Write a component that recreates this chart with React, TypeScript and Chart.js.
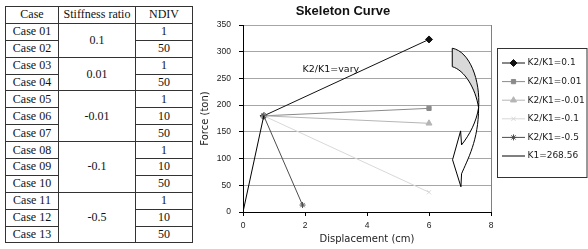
import React, { useEffect, useRef } from 'react';
import { Chart, registerables } from 'chart.js';
import { drawPoint } from 'chart.js/helpers';

Chart.register(...registerables);

// ---- Table data ----
const caseNames = ['Case 01', 'Case 02', 'Case 03', 'Case 04', 'Case 05', 'Case 06', 'Case 07', 'Case 08', 'Case 09', 'Case 10', 'Case 11', 'Case 12', 'Case 13'];
const caseRatios = ['0.1', '0.1', '0.01', '0.01', '-0.01', '-0.01', '-0.01', '-0.1', '-0.1', '-0.1', '-0.5', '-0.5', '-0.5'];
const caseNdiv = ['1', '50', '1', '50', '1', '10', '50', '1', '10', '50', '1', '10', '50'];
const tableHeaders = ['Case', 'Stiffness ratio', 'NDIV'];

// ---- Chart data ----
const chartTitle = 'Skeleton Curve';
const xTitle = 'Displacement (cm)';
const yTitle = 'Force (ton)';
const seriesLabels = ['K2/K1=0.1', 'K2/K1=0.01', 'K2/K1=-0.01', 'K2/K1=-0.1', 'K2/K1=-0.5', 'K1=268.56'];
const seriesX = [
  [0.67, 6],
  [0.67, 6],
  [0.67, 6],
  [0.67, 6],
  [0.67, 1.92],
  [0, 0.67],
];
const seriesY = [
  [180, 323],
  [180, 194],
  [180, 166],
  [180, 37],
  [180, 13],
  [0, 180],
];
const xTicks = [0, 2, 4, 6, 8];
const yTicks = [0, 50, 100, 150, 200, 250, 300, 350];
const noteText = 'K2/K1=vary';
const notePoint = { x: 1.92, y: 266 };

// ---- Styles ----
const seriesColors = ['#111111', '#8a8a8a', '#b5b5b5', '#d8d8d8', '#4d4d4d', '#000000'];
const seriesMarkers: any[] = ['rectRot', 'rect', 'triangle', 'crossRot', 'star', false];
const seriesRadius = [3.5, 3, 3.5, 3, 3, 0];

// Curved arrow annotation (data units)
const arrowFilled: any[] = [
  ['M', 6.75, 306.5],
  ['C', 7.31, 300.6, 7.66, 247, 7.6, 195.2],
  ['C', 7.5, 232, 7.14, 265.8, 6.75, 272],
  ['Z'],
];
const arrowOutline: any[] = [
  ['M', 7.6, 195.2],
  ['C', 7.6, 134.4, 7.24, 97.7, 7.05, 71.5],
  ['L', 7.03, 47.2],
  ['L', 6.76, 97.7],
  ['L', 7.02, 151.8],
  ['L', 7.05, 125.6],
  ['C', 7.31, 144.5, 7.53, 168.8, 7.6, 195.2],
  ['Z'],
];

const sansFont = "'Liberation Sans', Arial, sans-serif";
const narrowFont = "'Liberation Sans Narrow', 'Liberation Sans', Arial, sans-serif";
const dejaFont = "'DejaVu Sans', sans-serif";

function tracePath(ctx: CanvasRenderingContext2D, cmds: any[], xs: any, ys: any) {
  ctx.beginPath();
  for (const c of cmds) {
    if (c[0] === 'M') ctx.moveTo(xs.getPixelForValue(c[1]), ys.getPixelForValue(c[2]));
    else if (c[0] === 'L') ctx.lineTo(xs.getPixelForValue(c[1]), ys.getPixelForValue(c[2]));
    else if (c[0] === 'C')
      ctx.bezierCurveTo(
        xs.getPixelForValue(c[1]), ys.getPixelForValue(c[2]),
        xs.getPixelForValue(c[3]), ys.getPixelForValue(c[4]),
        xs.getPixelForValue(c[5]), ys.getPixelForValue(c[6])
      );
    else if (c[0] === 'Z') ctx.closePath();
  }
}

const extrasPlugin = {
  id: 'extras',
  beforeDatasetsDraw(chart: any) {
    const { ctx, chartArea } = chart;
    ctx.save();
    ctx.strokeStyle = '#808080';
    ctx.lineWidth = 1;
    ctx.beginPath();
    ctx.moveTo(Math.round(chartArea.right) + 0.5, chartArea.top);
    ctx.lineTo(Math.round(chartArea.right) + 0.5, chartArea.bottom);
    ctx.stroke();
    ctx.restore();
  },
  afterDatasetsDraw(chart: any) {
    const { ctx } = chart;
    const xs = chart.scales.x;
    const ys = chart.scales.y;
    ctx.save();
    ctx.lineWidth = 1;
    ctx.strokeStyle = '#000';
    tracePath(ctx, arrowFilled, xs, ys);
    ctx.fillStyle = '#d9d9d9';
    ctx.fill();
    ctx.stroke();
    tracePath(ctx, arrowOutline, xs, ys);
    ctx.fillStyle = '#ffffff';
    ctx.fill();
    ctx.stroke();
    // note text
    ctx.fillStyle = '#111';
    ctx.font = `9.5px ${dejaFont}`;
    ctx.textAlign = 'left';
    ctx.textBaseline = 'middle';
    ctx.fillText(noteText, xs.getPixelForValue(notePoint.x), ys.getPixelForValue(notePoint.y));
    ctx.restore();
  },
  afterDraw(chart: any) {
    const { ctx, chartArea } = chart;
    const left = Math.round(chartArea.right) + 6.5;
    const top = 48.5;
    const w = chart.width - left - 1;
    const h = 129;
    ctx.save();
    ctx.fillStyle = '#fff';
    ctx.fillRect(left, top, w, h);
    ctx.strokeStyle = '#333';
    ctx.lineWidth = 1;
    ctx.strokeRect(left, top, w, h);
    seriesLabels.forEach((lab, i) => {
      const y = top + 14.5 + i * 18.6;
      ctx.strokeStyle = seriesColors[i];
      ctx.lineWidth = 1;
      ctx.beginPath();
      ctx.moveTo(left + 4.5, y);
      ctx.lineTo(left + 27.5, y);
      ctx.stroke();
      if (seriesMarkers[i]) {
        ctx.fillStyle = seriesColors[i];
        drawPoint(ctx, { pointStyle: seriesMarkers[i], radius: seriesRadius[i], rotation: 0, borderWidth: 1 } as any, left + 16, y);
      }
      ctx.fillStyle = '#1a1a1a';
      ctx.font = `9px ${dejaFont}`;
      ctx.textAlign = 'left';
      ctx.textBaseline = 'middle';
      ctx.fillText(lab, left + 30, y);
    });
    ctx.restore();
  },
};

function SkeletonChart() {
  const ref = useRef<HTMLCanvasElement>(null);
  useEffect(() => {
    if (!ref.current) return;
    const datasets = seriesLabels.map((label, i) => ({
      label,
      data: seriesX[i].map((x, j) => ({ x, y: seriesY[i][j] })),
      showLine: true,
      borderColor: seriesColors[i],
      backgroundColor: seriesColors[i],
      pointBackgroundColor: seriesColors[i],
      pointBorderColor: seriesColors[i],
      pointStyle: seriesMarkers[i],
      pointRadius: seriesRadius[i],
      pointBorderWidth: 1,
      borderWidth: 1,
      tension: 0,
      order: -i,
    }));
    const chart = new Chart(ref.current, {
      type: 'scatter',
      data: { datasets },
      plugins: [extrasPlugin],
      options: {
        animation: false,
        responsive: false,
        layout: { padding: { left: 0, right: 97, top: 0, bottom: 0 } },
        plugins: {
          legend: { display: false },
          tooltip: { enabled: false },
          title: {
            display: true,
            text: chartTitle,
            color: '#111',
            font: { family: sansFont, size: 13, weight: 'bold' },
            padding: { top: 4, bottom: 5.4 },
          },
        },
        scales: {
          x: {
            type: 'linear',
            min: 0,
            max: 8,
            afterBuildTicks: (s: any) => { s.ticks = xTicks.map((v) => ({ value: v })); },
            afterFit: (s: any) => { s.height = 37; },
            grid: { drawOnChartArea: false, drawTicks: true, tickLength: 4, tickColor: '#000' },
            border: { color: '#000', width: 1 },
            ticks: { color: '#222', font: { family: narrowFont, size: 8.5 }, padding: 5, maxRotation: 0 },
            title: {
              display: true,
              text: xTitle,
              color: '#222',
              font: { family: dejaFont, size: 10 },
              padding: { top: 0, bottom: 4 },
            },
          },
          y: {
            type: 'linear',
            min: 0,
            max: 350,
            afterBuildTicks: (s: any) => { s.ticks = yTicks.map((v) => ({ value: v })); },
            afterFit: (s: any) => { s.width = 48; },
            grid: { color: '#a6a6a6', drawTicks: true, tickLength: 4, tickColor: '#000' },
            border: { color: '#000', width: 1 },
            ticks: { color: '#222', font: { family: narrowFont, size: 8.5 }, padding: 8 },
            title: {
              display: true,
              text: yTitle,
              color: '#222',
              font: { family: dejaFont, size: 10 },
              padding: { top: 4.5, bottom: 0 },
            },
          },
        },
      } as any,
    });
    return () => chart.destroy();
  }, []);
  return (
    <div style={{ position: 'absolute', left: 195, top: 0, width: 393, height: 249 }}>
      <canvas ref={ref} width={393} height={249} style={{ width: 393, height: 249, display: 'block' }} />
    </div>
  );
}

function CaseTable() {
  const cell: React.CSSProperties = {
    border: '1px solid #333',
    padding: 0,
    textAlign: 'center',
    verticalAlign: 'middle',
    whiteSpace: 'nowrap',
    overflow: 'hidden',
  };
  const rows = caseNames.map((name, i) => {
    const first = i === 0 || caseRatios[i - 1] !== caseRatios[i];
    let span = 1;
    if (first) {
      while (i + span < caseRatios.length && caseRatios[i + span] === caseRatios[i]) span++;
    }
    return (
      <tr key={name} style={{ height: 16.9 }}>
        <td style={cell}>{name}</td>
        {first ? <td style={cell} rowSpan={span}>{caseRatios[i]}</td> : null}
        <td style={cell}>{caseNdiv[i]}</td>
      </tr>
    );
  });
  return (
    <table
      style={{
        position: 'absolute',
        left: 5,
        top: 6,
        borderCollapse: 'collapse',
        tableLayout: 'fixed',
        width: 187,
        fontFamily: "'Liberation Serif', serif",
        fontSize: 12,
        lineHeight: '13px',
        color: '#111',
      }}
    >
      <colgroup>
        <col style={{ width: 53 }} />
        <col style={{ width: 77 }} />
        <col style={{ width: 57 }} />
      </colgroup>
      <tbody>
        <tr style={{ height: 16.9 }}>
          {tableHeaders.map((h) => (
            <td key={h} style={cell}>{h}</td>
          ))}
        </tr>
        {rows}
      </tbody>
    </table>
  );
}

export default function App() {
  return (
    <div style={{ position: 'absolute', left: 0, top: 0, width: 588, height: 249, background: '#fff', overflow: 'hidden' }}>
      <CaseTable />
      <SkeletonChart />
    </div>
  );
}
